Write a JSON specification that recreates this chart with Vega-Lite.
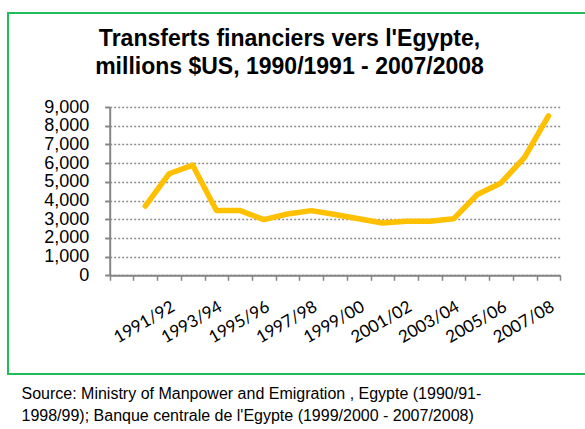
{
  "$schema": "https://vega.github.io/schema/vega-lite/v6.json",
  "background": "white",
  "padding": {"left": 6, "top": 12, "right": 0, "bottom": 0},
  "title": {
    "text": ["Source: Ministry of Manpower and Emigration , Egypte (1990/91-", "1998/99); Banque centrale de l'Egypte (1999/2000 - 2007/2008)"],
    "orient": "bottom",
    "anchor": "start",
    "dx": 15,
    "offset": 11,
    "baseline": "top",
    "font": "Liberation Sans",
    "fontSize": 16,
    "fontWeight": "normal",
    "color": "black",
    "lineHeight": 22
  },
  "vconcat": [
    {
      "width": 581,
      "height": 361,
      "view": {"fill": "white", "stroke": "#1fbd5a", "strokeWidth": 2},
      "title": {
        "text": ["Transferts financiers vers l'Egypte,", "millions $US, 1990/1991  - 2007/2008"],
        "anchor": "middle",
        "dx": -9,
        "offset": -66,
        "baseline": "top",
        "font": "Liberation Sans",
        "fontSize": 23,
        "fontWeight": "bold",
        "color": "black",
        "lineHeight": 28
      },
      "data": {"values": [
        {"period": "1990/91", "value": 3700},
        {"period": "1991/92", "value": 5430},
        {"period": "1992/93", "value": 5890},
        {"period": "1993/94", "value": 3460},
        {"period": "1994/95", "value": 3460},
        {"period": "1995/96", "value": 2980},
        {"period": "1996/97", "value": 3280},
        {"period": "1997/98", "value": 3460},
        {"period": "1998/99", "value": 3250},
        {"period": "1999/00", "value": 3020},
        {"period": "2000/01", "value": 2800},
        {"period": "2001/02", "value": 2890},
        {"period": "2002/03", "value": 2890},
        {"period": "2003/04", "value": 3020},
        {"period": "2004/05", "value": 4320},
        {"period": "2005/06", "value": 4940},
        {"period": "2006/07", "value": 6320},
        {"period": "2007/08", "value": 8520}
      ]},
      "mark": {"type": "line", "color": "#ffc000", "strokeWidth": 5.5, "strokeJoin": "round", "strokeCap": "round"},
      "encoding": {
        "x": {
          "field": "period",
          "type": "ordinal",
          "scale": {
            "type": "band",
            "domain": ["1989/90", "1990/91", "1991/92", "1992/93", "1993/94", "1994/95", "1995/96", "1996/97", "1997/98", "1998/99", "1999/00", "2000/01", "2001/02", "2002/03", "2003/04", "2004/05", "2005/06", "2006/07", "2007/08"],
            "range": [101.7, 552.3],
            "paddingInner": 0,
            "paddingOuter": 0
          },
          "axis": {
            "orient": "bottom",
            "offset": -98.7,
            "title": null,
            "domain": true,
            "domainColor": "#868686",
            "domainWidth": 2,
            "grid": false,
            "tickBand": "extent",
            "ticks": true,
            "tickSize": 5,
            "tickColor": "#868686",
            "tickWidth": 1.5,
            "labelAngle": -30,
            "labelAlign": "right",
            "labelBaseline": "top",
            "labelPadding": 18,
            "labelFont": "Lato",
            "labelFontSize": 17,
            "labelColor": "black",
            "labelOverlap": false,
            "labelExpr": "indexof(['1991/92','1993/94','1995/96','1997/98','1999/00','2001/02','2003/04','2005/06','2007/08'], datum.label) >= 0 ? datum.label : ''"
          }
        },
        "y": {
          "field": "value",
          "type": "quantitative",
          "scale": {"domain": [0, 9000], "range": [262.3, 94], "nice": false, "zero": true},
          "axis": {
            "orient": "left",
            "offset": -101.7,
            "title": null,
            "domain": true,
            "domainColor": "#868686",
            "domainWidth": 2,
            "grid": true,
            "gridColor": "#8c8c8c",
            "gridWidth": 1.5,
            "gridDash": [2, 2],
            "values": [0, 1000, 2000, 3000, 4000, 5000, 6000, 7000, 8000, 9000],
            "format": ",d",
            "tickSize": 5,
            "tickColor": "#868686",
            "tickWidth": 2,
            "labelFont": "Liberation Sans",
            "labelFontSize": 18,
            "labelColor": "black",
            "labelPadding": 16,
            "labelOverlap": false
          }
        }
      }
    }
  ]
}
